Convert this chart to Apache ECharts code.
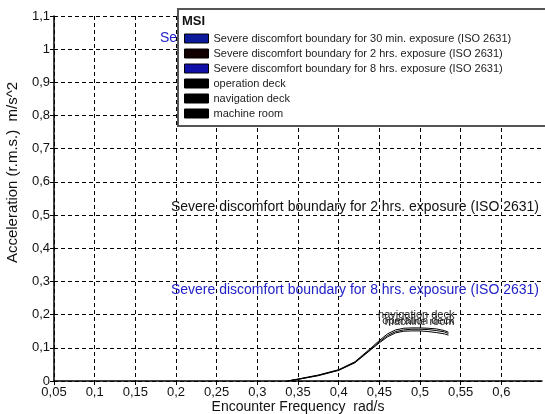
<!DOCTYPE html>
<html>
<head>
<meta charset="utf-8">
<script src="https://cdn.jsdelivr.net/npm/echarts@6/dist/echarts.min.js"></script>
<style>
html,body{margin:0;padding:0;background:#fff;}
#chart{width:545px;height:414px;}
</style>
</head>
<body>
<div id="chart"></div>
<script>
// ---- data ----
const legendTitle = 'MSI';
const boundaryNames = [
  'Severe discomfort boundary for 30 min. exposure (ISO 2631)',
  'Severe discomfort boundary for 2 hrs. exposure (ISO 2631)',
  'Severe discomfort boundary for 8 hrs. exposure (ISO 2631)'
];
const boundaryLabelX = 0.65;
const boundaryLabelY = [1.033, 0.525, 0.273];
const boundaryColors = ['#0a1a9a', '#100000', '#1010a8'];
const boundaryTextColors = ['#2222c8', '#111111', '#2222c8'];

const curveNames = ['operation deck', 'navigation deck', 'machine room'];
const freq = [0.337, 0.35, 0.375, 0.4, 0.42, 0.44, 0.45, 0.46, 0.47, 0.48, 0.49, 0.5, 0.51, 0.52, 0.53, 0.535];
const operationDeck  = [0, 0.005, 0.017, 0.033, 0.056, 0.097, 0.118, 0.137, 0.149, 0.154, 0.156, 0.156, 0.155, 0.152, 0.148, 0.143];
const navigationDeck = [0, 0.006, 0.018, 0.034, 0.058, 0.100, 0.122, 0.142, 0.154, 0.159, 0.160, 0.160, 0.159, 0.157, 0.152, 0.147];
const machineRoom    = [0, 0.005, 0.016, 0.032, 0.055, 0.095, 0.115, 0.133, 0.145, 0.150, 0.151, 0.151, 0.149, 0.146, 0.142, 0.138];
const curveValues = [operationDeck, navigationDeck, machineRoom];
const curveLabelDistance = [7, 12, 8];

const xTitle = 'Encounter Frequency  rad/s';
const yTitle = 'Acceleration (r.m.s.)  m/s^2';

// ---- chart ----
const FONT = '"Liberation Sans", Arial, sans-serif';
const chart = echarts.init(document.getElementById('chart'));
const comma = v => String(Math.round(v * 100) / 100).replace('.', ',');

const series = [];
boundaryNames.forEach((name, i) => {
  series.push({
    name: name,
    type: 'line',
    symbol: 'circle',
    symbolSize: 0,
    showSymbol: true,
    clip: false,
    color: boundaryColors[i],
    lineStyle: { width: 1, color: boundaryColors[i] },
    data: [{
      value: [boundaryLabelX, boundaryLabelY[i]],
      label: {
        show: true,
        position: 'left',
        distance: 3,
        formatter: name,
        color: boundaryTextColors[i],
        fontFamily: FONT,
        fontSize: 14
      }
    }],
    z: 3
  });
});
curveNames.forEach((name, i) => {
  const vals = curveValues[i];
  series.push({
    name: name,
    type: 'line',
    symbol: 'circle',
    symbolSize: 0,
    showSymbol: true,
    color: '#000',
    lineStyle: { width: 1, color: '#000' },
    data: freq.map((x, k) => {
      if (k === freq.length - 1) {
        return {
          value: [x, vals[k]],
          label: {
            show: true,
            position: 'top',
            align: 'right',
            distance: curveLabelDistance[i],
            offset: [6, 0],
            formatter: name,
            color: '#222',
            fontFamily: FONT,
            fontSize: 11
          }
        };
      }
      return [x, vals[k]];
    }),
    z: 3
  });
});

chart.setOption({
  animation: false,
  backgroundColor: '#fff',
  textStyle: { fontFamily: FONT },
  title: {
    text: legendTitle,
    left: 182,
    top: 15,
    padding: 0,
    textStyle: { fontFamily: FONT, fontSize: 13, fontWeight: 'bold', color: '#111' },
    z: 10
  },
  legend: {
    orient: 'vertical',
    left: 178,
    top: 9,
    padding: [23, 45, 6, 6],
    itemGap: 2,
    itemWidth: 24,
    itemHeight: 9,
    icon: 'rect',
    backgroundColor: '#fff',
    borderColor: '#555',
    borderWidth: 2,
    itemStyle: { borderColor: '#000', borderWidth: 1 },
    textStyle: { fontFamily: FONT, fontSize: 11, color: '#222', lineHeight: 13 },
    data: boundaryNames.concat(curveNames),
    z: 8
  },
  grid: { left: 54, right: 3, top: 16, bottom: 33, containLabel: false, outerBoundsMode: 'none' },
  xAxis: {
    type: 'value',
    min: 0.05,
    max: 0.65,
    interval: 0.05,
    name: xTitle,
    nameLocation: 'middle',
    nameGap: 19,
    nameMoveOverlap: false,
    nameTextStyle: { fontFamily: FONT, fontSize: 14, color: '#111' },
    axisLine: { show: true, onZero: false, lineStyle: { color: '#000', width: 1.5 } },
    axisTick: { show: true, length: 4, lineStyle: { color: '#000' } },
    axisLabel: { show: true, showMaxLabel: false, margin: 5, fontFamily: FONT, fontSize: 13, color: '#111', formatter: comma },
    splitLine: { show: true, showMaxLine: false, lineStyle: { color: '#000', type: [4, 3], width: 1 } }
  },
  yAxis: {
    type: 'value',
    min: 0,
    max: 1.1,
    interval: 0.1,
    name: yTitle,
    nameLocation: 'middle',
    nameGap: 34,
    nameMoveOverlap: false,
    nameTextStyle: { fontFamily: FONT, fontSize: 15, color: '#111', padding: [0, 0, 0, 52] },
    axisLine: { show: true, onZero: false, lineStyle: { color: '#000', width: 1.5 } },
    axisTick: { show: true, length: 4, lineStyle: { color: '#000' } },
    axisLabel: { margin: 4, fontFamily: FONT, fontSize: 13, color: '#111', formatter: comma },
    splitLine: { show: true, lineStyle: { color: '#000', type: [4, 3], width: 1 } }
  },
  series: series
});
</script>
</body>
</html>
